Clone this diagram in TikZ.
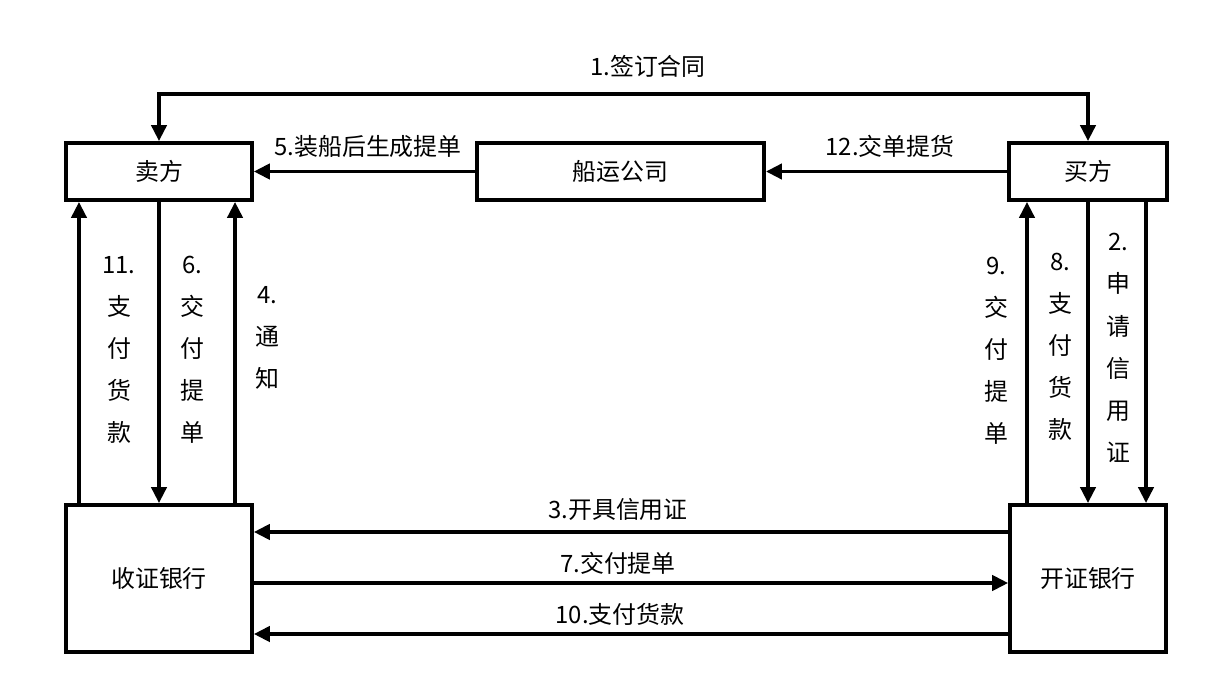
\documentclass[tikz,border=0pt]{standalone}
\usepackage{fontspec}
\setmainfont{Noto Sans CJK SC}
\usetikzlibrary{arrows.meta}
\tikzset{
  party/.style={draw, line width=2.6pt, minimum height=1.43cm, inner sep=0pt},
  flow/.style={->, line width=2.6pt},
  vlabel/.style={align=center, font=\fontsize{17}{29.9}\selectfont},
}
\begin{document}
\begin{tikzpicture}[x=0.025cm, y=-0.025cm, >={Triangle[length=0.4cm,width=0.38cm]}, every node/.style={font=\fontsize{17}{20}\selectfont}]
\useasboundingbox (0,0) rectangle (1212,690);
% Parties
\node [party, minimum width=4.65cm] (seller) at (159,171.5) {卖方};
\node [party, minimum width=7.18cm] (ship) at (620.5,171.5) {船运公司};
\node [party, minimum width=3.95cm] (buyer) at (1088,171.5) {买方};
% Banks
\node [party, minimum width=4.65cm, minimum height=3.68cm] (rbank) at (159,578.5) {收证银行};
\node [party, minimum width=3.9cm, minimum height=3.68cm] (ibank) at (1088,578.5) {开证银行};
% Contract between seller and buyer
\draw [flow, <->] (seller.north) -- ++(0,-47) -| (buyer.north);
\node (l1) at (648,66) {1.签订合同};
% Shipping company
\draw [flow] (ship.west) -- (seller.east);
\node (l5) at (368,146) {5.装船后生成提单};
\draw [flow] (buyer.west) -- (ship.east);
\node (l12) at (890,146) {12.交单提货};
% Seller side
\draw [flow] ([xshift=-2cm]rbank.north) -- ([xshift=-2cm]seller.south);
\node [vlabel] (l11) at (119,350) {11.\\支\\付\\货\\款};
\draw [flow] (seller.south) -- (rbank.north);
\node [vlabel] (l6) at (192,350) {6.\\交\\付\\提\\单};
\draw [flow] ([xshift=1.9cm]rbank.north) -- ([xshift=1.9cm]seller.south);
\node [vlabel] (l4) at (267,338) {4.\\通\\知};
% Buyer side
\draw [flow] ([xshift=-1.525cm]ibank.north) -- ([xshift=-1.525cm]buyer.south);
\node [vlabel] (l9) at (996,351) {9.\\交\\付\\提\\单};
\draw [flow] (buyer.south) -- (ibank.north);
\node [vlabel] (l8) at (1060,347) {8.\\支\\付\\货\\款};
\draw [flow] ([xshift=1.45cm]buyer.south) -- ([xshift=1.45cm]ibank.north);
\node [vlabel] (l2) at (1118,348) {2.\\申\\请\\信\\用\\证};
% Between the banks
\draw [flow] ([yshift=1.1625cm]ibank.west) -- ([yshift=1.1625cm]rbank.east);
\node (l3) at (618,509) {3.开具信用证};
\draw [flow] ([yshift=-0.1125cm]rbank.east) -- ([yshift=-0.1125cm]ibank.west);
\node (l7) at (618,563) {7.交付提单};
\draw [flow] ([yshift=-1.3875cm]ibank.west) -- ([yshift=-1.3875cm]rbank.east);
\node (l10) at (620,614) {10.支付货款};
\end{tikzpicture}
\end{document}
